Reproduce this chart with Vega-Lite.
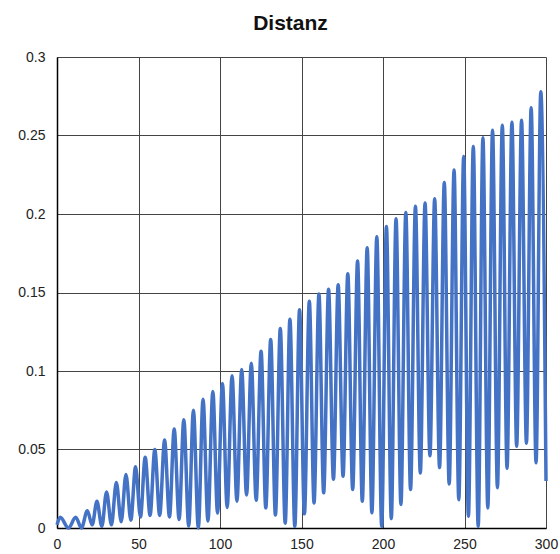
{
  "$schema": "https://vega.github.io/schema/vega-lite/v6.json",
  "autosize": {"type": "none"},
  "width": 489,
  "height": 471,
  "padding": {"left": 57, "top": 57, "right": 14, "bottom": 26},
  "background": "white",
  "title": {
    "text": "Distanz",
    "font": "Liberation Sans",
    "fontSize": 21,
    "fontWeight": "bold",
    "color": "#111",
    "anchor": "middle",
    "offset": 16,
    "dx": -11
  },
  "data": {
    "values": [
      {"t": 0, "d": 0.002}, {"t": 2, "d": 0.0068}, {"t": 7, "d": 0.0}, {"t": 11.5, "d": 0.0068}, {"t": 15, "d": 0.0},
      {"t": 18.6, "d": 0.011}, {"t": 21.6, "d": 0.002}, {"t": 24.5, "d": 0.017}, {"t": 27.5, "d": 0.001},
      {"t": 30.4, "d": 0.023}, {"t": 33.4, "d": 0.002}, {"t": 36.4, "d": 0.029}, {"t": 39.4, "d": 0.004},
      {"t": 42.3, "d": 0.034}, {"t": 45.3, "d": 0.005}, {"t": 48.2, "d": 0.039}, {"t": 51.2, "d": 0.007},
      {"t": 54.1, "d": 0.045}, {"t": 57.1, "d": 0.008}, {"t": 60.0, "d": 0.050}, {"t": 63.0, "d": 0.008},
      {"t": 66.0, "d": 0.056}, {"t": 69.0, "d": 0.007}, {"t": 71.9, "d": 0.063}, {"t": 74.9, "d": 0.0054},
      {"t": 77.8, "d": 0.069}, {"t": 80.8, "d": 0.0012}, {"t": 83.7, "d": 0.075}, {"t": 86.7, "d": 0.0},
      {"t": 89.6, "d": 0.082}, {"t": 92.6, "d": 0.0044}, {"t": 95.6, "d": 0.087}, {"t": 98.5, "d": 0.0095},
      {"t": 101.5, "d": 0.092}, {"t": 104.4, "d": 0.013}, {"t": 107.4, "d": 0.097}, {"t": 110.4, "d": 0.017},
      {"t": 113.3, "d": 0.101}, {"t": 116.3, "d": 0.021}, {"t": 119.2, "d": 0.105}, {"t": 122.2, "d": 0.0177},
      {"t": 125.2, "d": 0.1126}, {"t": 128.1, "d": 0.0128}, {"t": 131.1, "d": 0.120}, {"t": 134.0, "d": 0.0083},
      {"t": 137.0, "d": 0.127}, {"t": 140.0, "d": 0.0031}, {"t": 142.9, "d": 0.133}, {"t": 145.9, "d": 0.001},
      {"t": 148.8, "d": 0.139}, {"t": 151.8, "d": 0.009}, {"t": 154.8, "d": 0.1445}, {"t": 157.7, "d": 0.016},
      {"t": 160.7, "d": 0.149}, {"t": 163.6, "d": 0.0224}, {"t": 166.6, "d": 0.152}, {"t": 169.6, "d": 0.031},
      {"t": 172.5, "d": 0.155}, {"t": 175.5, "d": 0.033}, {"t": 178.4, "d": 0.162}, {"t": 181.4, "d": 0.0245},
      {"t": 184.4, "d": 0.170}, {"t": 187.3, "d": 0.017}, {"t": 190.3, "d": 0.1785}, {"t": 193.2, "d": 0.0097},
      {"t": 196.2, "d": 0.1855}, {"t": 199.2, "d": 0.001}, {"t": 202.1, "d": 0.192}, {"t": 205.1, "d": 0.006},
      {"t": 208.0, "d": 0.197}, {"t": 211.0, "d": 0.015}, {"t": 214.0, "d": 0.201}, {"t": 216.9, "d": 0.0245},
      {"t": 219.9, "d": 0.205}, {"t": 222.9, "d": 0.035}, {"t": 225.8, "d": 0.207}, {"t": 228.8, "d": 0.046},
      {"t": 231.7, "d": 0.2097}, {"t": 234.7, "d": 0.0385}, {"t": 237.6, "d": 0.220}, {"t": 240.6, "d": 0.028},
      {"t": 243.6, "d": 0.228}, {"t": 246.5, "d": 0.018}, {"t": 249.5, "d": 0.2366}, {"t": 252.4, "d": 0.0075},
      {"t": 255.4, "d": 0.243}, {"t": 258.4, "d": 0.001}, {"t": 261.3, "d": 0.2485}, {"t": 264.3, "d": 0.0128},
      {"t": 267.2, "d": 0.2534}, {"t": 270.2, "d": 0.0256}, {"t": 273.2, "d": 0.2566}, {"t": 276.1, "d": 0.038},
      {"t": 279.1, "d": 0.2585}, {"t": 282.0, "d": 0.052}, {"t": 285.0, "d": 0.2597}, {"t": 288.0, "d": 0.054},
      {"t": 290.9, "d": 0.2676}, {"t": 293.9, "d": 0.0415}, {"t": 296.8, "d": 0.2778}, {"t": 300, "d": 0.030}
    ]
  },
  "mark": {"type": "line", "color": "#4472C4", "strokeWidth": 3.5, "interpolate": "monotone", "clip": false},
  "encoding": {
    "x": {
      "field": "t", "type": "quantitative",
      "scale": {"domain": [0, 300], "nice": false, "zero": false},
      "axis": {
        "title": null, "values": [0, 50, 100, 150, 200, 250, 300], "format": "d",
        "tickSize": 0, "labelPadding": 9, "labelFont": "Liberation Sans", "labelFontSize": 14,
        "labelColor": "#222", "domainColor": "#000", "domainWidth": 1.5,
        "grid": true, "gridColor": "#444", "gridWidth": 1, "labelFlush": false
      }
    },
    "y": {
      "field": "d", "type": "quantitative",
      "scale": {"domain": [0, 0.3], "nice": false},
      "axis": {
        "title": null, "values": [0, 0.05, 0.1, 0.15, 0.2, 0.25, 0.3], "format": "~g",
        "tickSize": 0, "labelPadding": 12, "labelFont": "Liberation Sans", "labelFontSize": 14,
        "labelColor": "#222", "domainColor": "#000", "domainWidth": 1.5,
        "grid": true, "gridColor": "#444", "gridWidth": 1, "labelFlush": false
      }
    }
  },
  "config": {"view": {"stroke": null}}
}
